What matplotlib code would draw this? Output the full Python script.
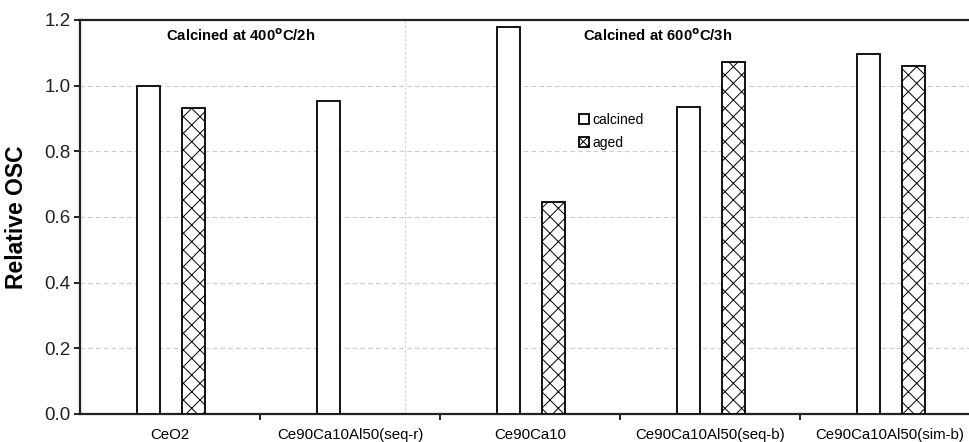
import matplotlib.pyplot as plt
import numpy as np

plt.rcParams['font.family'] = ['Liberation Sans', 'DejaVu Sans']

# data
samples = ['CeO2', 'Ce90Ca10Al50(seq-r)', 'Ce90Ca10', 'Ce90Ca10Al50(seq-b)', 'Ce90Ca10Al50(sim-b)']
calcined = [1.0, 0.952, 1.179, 0.934, 1.097]
aged = [0.932, np.nan, 0.646, 1.072, 1.061]

x = np.arange(len(samples))
w = 0.125

fig = plt.figure(figsize=(9.7, 4.42), dpi=100)
ax = fig.add_axes([80/970, 28/442, 890/970, 394/442])

ax.bar(x - 0.12, calcined, w, facecolor='white', edgecolor='black', linewidth=1.3,
       label='calcined', zorder=3)
plt.rcParams['hatch.linewidth'] = 0.7
ax.bar(x + 0.13, aged, w, facecolor='white', edgecolor='black', linewidth=1.3,
       hatch='xx', label='aged', zorder=3)

ax.set_xlim(-0.5, 4.444)
ax.set_ylim(0, 1.2)
ax.set_yticks(np.arange(0, 1.21, 0.2))
ax.set_yticklabels(['%.1f' % v for v in np.arange(0, 1.21, 0.2)], fontsize=13.5, color='#222222')
ax.yaxis.grid(True, linestyle=(0, (4, 3)), color='#cccccc', linewidth=0.8, zorder=0)
ax.set_axisbelow(True)

ax.set_xticks(x[:-1] + 0.5)
ax.set_xticklabels([])
ax.set_xticks(x, minor=True)
ax.set_xticklabels(samples, minor=True, fontsize=10.8)
ax.tick_params(axis='x', which='minor', length=0, pad=10)
ax.tick_params(axis='x', which='major', length=4, width=1.2, direction='out')
ax.tick_params(axis='y', length=4, width=1.2, direction='out', pad=3)

for side in ['left', 'bottom', 'top']:
    ax.spines[side].set_linewidth(1.6)
    ax.spines[side].set_color('#222222')
ax.spines['right'].set_visible(False)

ax.axvline(1.306, color='#d0d0d0', linestyle=(0, (2, 2)), linewidth=0.8, zorder=0)

ax.set_ylabel('Relative OSC', fontsize=16.5, fontweight='bold')
ax.yaxis.set_label_coords(-52/890, 0.5)

ax.text(0.394, 1.152, 'Calcined at 400$^{\\mathbf{o}}$C/2h', ha='center', va='center',
        fontsize=10.7, fontweight='bold')
ax.text(2.71, 1.152, 'Calcined at 600$^{\\mathbf{o}}$C/3h', ha='center', va='center',
        fontsize=10.7, fontweight='bold')

leg = ax.legend(loc='upper left', bbox_to_anchor=(0.5607, 0.765), frameon=False, fontsize=10,
                handlelength=0.75, handleheight=0.75, handletextpad=0.2, labelspacing=0.65,
                borderaxespad=0, borderpad=0)
leg.legend_handles[1].set_hatch('xxxx')

fig.savefig('out.png', dpi=100)
